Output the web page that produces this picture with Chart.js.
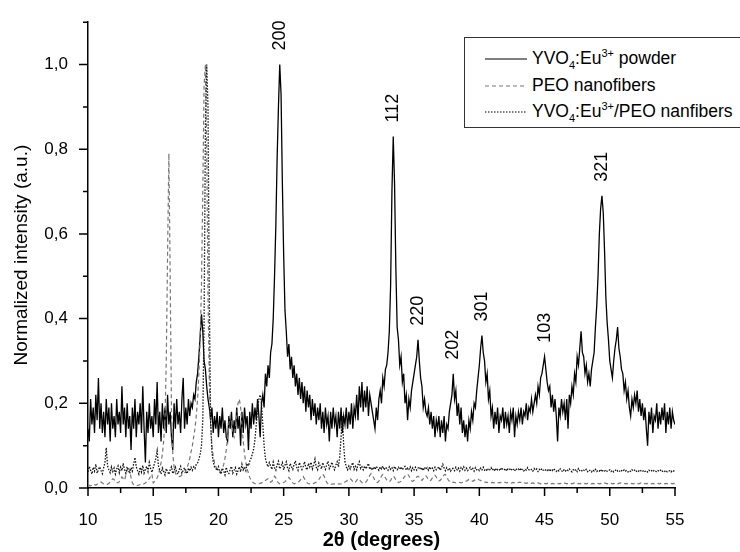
<!DOCTYPE html>
<html>
<head>
<meta charset="utf-8">
<script src="https://cdn.jsdelivr.net/npm/chart.js@4.4.1/dist/chart.umd.min.js"></script>
<style>
    html, body { margin: 0; padding: 0; background: #fff; overflow: hidden; }
    #wrap { position: relative; width: 740px; height: 552px; }
    #legend {
        position: absolute; left: 464px; top: 37px; width: 300px; height: 91px;
        border: 1px solid #333; box-sizing: border-box; background: #fff;
        font-family: 'Liberation Sans', Arial, sans-serif; font-size: 17.5px; color: #000;
    }
    #legend .row { position: absolute; left: 20px; height: 24px; line-height: 24px; white-space: nowrap; }
    #legend svg { vertical-align: middle; margin-right: 5px; }
    #legend sub, #legend sup { font-size: 11px; line-height: 0; }
</style>
</head>
<body>
<div id="wrap">
    <canvas id="canvasGrafico" width="740" height="552"></canvas>
    <div id="legend">
        <div class="row" style="top:8px"><svg width="42" height="4"><line x1="0" y1="2" x2="42" y2="2" stroke="#000" stroke-width="1.2"/></svg>YVO<sub>4</sub>:Eu<sup>3+</sup> powder</div>
        <div class="row" style="top:35px"><svg width="42" height="4"><line x1="0" y1="2" x2="42" y2="2" stroke="#777" stroke-width="1.2" stroke-dasharray="4 3"/></svg>PEO nanofibers</div>
        <div class="row" style="top:61px"><svg width="42" height="4"><line x1="0" y1="2" x2="42" y2="2" stroke="#000" stroke-width="1.2" stroke-dasharray="1.5 1.5"/></svg>YVO<sub>4</sub>:Eu<sup>3+</sup>/PEO nanfibers</div>
    </div>
</div>
<script>
// griglia di misura: 2theta da 10 a 55 gradi, passo 0.1
const START = 10;
const STEP = 0.1;

const xTicks = [10, 15, 20, 25, 30, 35, 40, 45, 50, 55];
const yTicks = [0, 0.2, 0.4, 0.6, 0.8, 1.0];

const peakHkl = ["200", "112", "220", "202", "301", "103", "321"];
const peakAngles = [24.7, 33.4, 35.3, 38.0, 40.2, 45.0, 49.4];

// YVO4:Eu3+ powder (una riga = 1 grado)
const powder = [
    0.14, 0.11, 0.21, 0.15, 0.19, 0.13, 0.22, 0.16, 0.26, 0.14, // 10
    0.20, 0.13, 0.18, 0.12, 0.21, 0.15, 0.19, 0.11, 0.20, 0.14, // 11
    0.17, 0.12, 0.21, 0.15, 0.18, 0.13, 0.24, 0.15, 0.19, 0.12, // 12
    0.20, 0.14, 0.17, 0.09, 0.19, 0.14, 0.21, 0.12, 0.18, 0.15, // 13
    0.20, 0.13, 0.24, 0.14, 0.06, 0.18, 0.13, 0.20, 0.14, 0.17, // 14
    0.12, 0.21, 0.15, 0.25, 0.13, 0.18, 0.11, 0.20, 0.14, 0.19, // 15
    0.13, 0.22, 0.15, 0.18, 0.12, 0.09, 0.20, 0.14, 0.21, 0.15, // 16
    0.18, 0.13, 0.21, 0.26, 0.14, 0.19, 0.15, 0.21, 0.17, 0.20, // 17
    0.19, 0.22, 0.21, 0.25, 0.27, 0.31, 0.36, 0.41, 0.37, 0.30, // 18
    0.28, 0.24, 0.21, 0.19, 0.16, 0.19, 0.13, 0.17, 0.14, 0.18, // 19
    0.12, 0.17, 0.14, 0.19, 0.13, 0.16, 0.12, 0.11, 0.17, 0.14, // 20
    0.18, 0.12, 0.16, 0.13, 0.19, 0.14, 0.17, 0.10, 0.18, 0.13, // 21
    0.19, 0.15, 0.17, 0.09, 0.18, 0.14, 0.20, 0.15, 0.19, 0.16, // 22
    0.21, 0.17, 0.12, 0.20, 0.22, 0.19, 0.27, 0.24, 0.29, 0.26, // 23
    0.32, 0.34, 0.40, 0.50, 0.62, 0.78, 0.90, 1.00, 0.93, 0.72, // 24
    0.55, 0.42, 0.37, 0.31, 0.34, 0.28, 0.31, 0.26, 0.29, 0.24, // 25
    0.27, 0.22, 0.26, 0.21, 0.25, 0.20, 0.24, 0.18, 0.23, 0.19, // 26
    0.22, 0.16, 0.21, 0.17, 0.20, 0.15, 0.19, 0.16, 0.20, 0.14, // 27
    0.18, 0.13, 0.19, 0.15, 0.17, 0.11, 0.18, 0.14, 0.19, 0.15, // 28
    0.17, 0.12, 0.18, 0.14, 0.19, 0.13, 0.17, 0.15, 0.19, 0.14, // 29
    0.18, 0.15, 0.20, 0.14, 0.19, 0.17, 0.22, 0.16, 0.24, 0.19, // 30
    0.25, 0.18, 0.23, 0.19, 0.24, 0.17, 0.22, 0.20, 0.18, 0.16, // 31
    0.14, 0.19, 0.16, 0.21, 0.23, 0.20, 0.26, 0.24, 0.28, 0.29, // 32
    0.32, 0.37, 0.48, 0.70, 0.83, 0.72, 0.52, 0.38, 0.35, 0.29, // 33
    0.31, 0.25, 0.27, 0.20, 0.22, 0.16, 0.21, 0.19, 0.23, 0.25, // 34
    0.27, 0.29, 0.31, 0.35, 0.30, 0.26, 0.24, 0.19, 0.21, 0.18, // 35
    0.17, 0.19, 0.15, 0.18, 0.14, 0.17, 0.12, 0.16, 0.14, 0.17, // 36
    0.12, 0.16, 0.13, 0.17, 0.11, 0.15, 0.14, 0.18, 0.20, 0.22, // 37
    0.27, 0.21, 0.23, 0.17, 0.20, 0.15, 0.19, 0.13, 0.16, 0.12, // 38
    0.15, 0.11, 0.16, 0.14, 0.18, 0.16, 0.20, 0.19, 0.23, 0.26, // 39
    0.29, 0.33, 0.36, 0.32, 0.30, 0.25, 0.27, 0.21, 0.23, 0.17, // 40
    0.19, 0.14, 0.18, 0.15, 0.19, 0.13, 0.17, 0.16, 0.19, 0.14, // 41
    0.18, 0.15, 0.17, 0.13, 0.18, 0.16, 0.19, 0.12, 0.17, 0.15, // 42
    0.18, 0.16, 0.19, 0.15, 0.18, 0.17, 0.20, 0.16, 0.19, 0.18, // 43
    0.21, 0.18, 0.20, 0.22, 0.20, 0.24, 0.22, 0.26, 0.27, 0.29, // 44
    0.31, 0.28, 0.25, 0.23, 0.24, 0.19, 0.22, 0.18, 0.21, 0.17, // 45
    0.11, 0.19, 0.17, 0.21, 0.18, 0.20, 0.16, 0.21, 0.14, 0.22, // 46
    0.20, 0.24, 0.22, 0.27, 0.25, 0.31, 0.29, 0.33, 0.37, 0.32, // 47
    0.31, 0.27, 0.29, 0.25, 0.27, 0.24, 0.28, 0.30, 0.32, 0.38, // 48
    0.43, 0.50, 0.60, 0.66, 0.69, 0.65, 0.56, 0.45, 0.39, 0.35, // 49
    0.30, 0.28, 0.26, 0.30, 0.33, 0.35, 0.38, 0.33, 0.31, 0.28, // 50
    0.27, 0.23, 0.25, 0.21, 0.23, 0.19, 0.17, 0.21, 0.19, 0.22, // 51
    0.20, 0.23, 0.18, 0.21, 0.17, 0.20, 0.16, 0.19, 0.14, 0.10, // 52
    0.18, 0.15, 0.19, 0.13, 0.17, 0.16, 0.20, 0.14, 0.18, 0.15, // 53
    0.19, 0.16, 0.20, 0.13, 0.18, 0.15, 0.19, 0.14, 0.18, 0.16, // 54
    0.15
];

// PEO nanofibers
const peo = [
    0.005, 0.006, 0.005, 0.007, 0.006, 0.008, 0.007, 0.009, 0.010, 0.012, // 10
    0.014, 0.012, 0.010, 0.009, 0.008, 0.009, 0.011, 0.014, 0.018, 0.022, // 11
    0.020, 0.016, 0.013, 0.012, 0.015, 0.020, 0.026, 0.022, 0.018, 0.030, // 12
    0.042, 0.050, 0.040, 0.025, 0.012, 0.008, 0.006, 0.005, 0.006, 0.007, // 13
    0.008, 0.007, 0.008, 0.010, 0.012, 0.015, 0.018, 0.022, 0.027, 0.033, // 14
    0.012, 0.015, 0.018, 0.024, 0.032, 0.045, 0.060, 0.080, 0.110, 0.160, // 15
    0.300, 0.550, 0.790, 0.500, 0.180, 0.080, 0.050, 0.035, 0.030, 0.028, // 16
    0.027, 0.028, 0.030, 0.032, 0.035, 0.040, 0.048, 0.058, 0.070, 0.085, // 17
    0.100, 0.120, 0.140, 0.170, 0.210, 0.270, 0.350, 0.480, 0.700, 0.950, // 18
    1.000, 0.800, 0.450, 0.250, 0.150, 0.100, 0.075, 0.060, 0.050, 0.045, // 19
    0.040, 0.038, 0.040, 0.045, 0.055, 0.070, 0.090, 0.120, 0.150, 0.170, // 20
    0.160, 0.130, 0.120, 0.140, 0.170, 0.200, 0.210, 0.190, 0.150, 0.110, // 21
    0.080, 0.060, 0.045, 0.035, 0.025, 0.018, 0.014, 0.012, 0.010, 0.010, // 22
    0.010, 0.010, 0.011, 0.012, 0.013, 0.015, 0.018, 0.020, 0.022, 0.018, // 23
    0.014, 0.016, 0.022, 0.028, 0.024, 0.016, 0.012, 0.010, 0.011, 0.012, // 24
    0.013, 0.015, 0.018, 0.022, 0.025, 0.021, 0.016, 0.012, 0.010, 0.011, // 25
    0.012, 0.014, 0.016, 0.020, 0.024, 0.027, 0.022, 0.016, 0.012, 0.010, // 26
    0.010, 0.009, 0.010, 0.011, 0.012, 0.014, 0.016, 0.020, 0.025, 0.030, // 27
    0.032, 0.028, 0.020, 0.013, 0.010, 0.009, 0.008, 0.009, 0.010, 0.009, // 28
    0.008, 0.009, 0.010, 0.009, 0.010, 0.011, 0.012, 0.014, 0.016, 0.018, // 29
    0.020, 0.022, 0.019, 0.015, 0.012, 0.014, 0.018, 0.022, 0.020, 0.016, // 30
    0.013, 0.011, 0.012, 0.014, 0.018, 0.024, 0.030, 0.034, 0.030, 0.024, // 31
    0.018, 0.014, 0.013, 0.016, 0.022, 0.028, 0.032, 0.030, 0.024, 0.019, // 32
    0.016, 0.015, 0.018, 0.024, 0.028, 0.025, 0.019, 0.015, 0.013, 0.014, // 33
    0.016, 0.019, 0.024, 0.028, 0.031, 0.033, 0.029, 0.022, 0.017, 0.016, // 34
    0.018, 0.022, 0.026, 0.028, 0.025, 0.020, 0.018, 0.022, 0.027, 0.029, // 35
    0.025, 0.020, 0.017, 0.019, 0.024, 0.028, 0.030, 0.026, 0.020, 0.017, // 36
    0.018, 0.022, 0.027, 0.031, 0.032, 0.026, 0.020, 0.016, 0.014, 0.013, // 37
    0.014, 0.013, 0.012, 0.013, 0.014, 0.013, 0.012, 0.013, 0.014, 0.015, // 38
    0.016, 0.018, 0.020, 0.019, 0.017, 0.016, 0.018, 0.020, 0.022, 0.021, // 39
    0.019, 0.018, 0.016, 0.015, 0.014, 0.014, 0.013, 0.014, 0.013, 0.012, // 40
    0.013, 0.012, 0.013, 0.014, 0.013, 0.012, 0.013, 0.012, 0.013, 0.014, // 41
    0.013, 0.012, 0.013, 0.012, 0.011, 0.012, 0.013, 0.012, 0.011, 0.012, // 42
    0.013, 0.014, 0.013, 0.012, 0.011, 0.012, 0.011, 0.012, 0.013, 0.012, // 43
    0.011, 0.012, 0.011, 0.010, 0.011, 0.012, 0.011, 0.010, 0.011, 0.012, // 44
    0.011, 0.010, 0.011, 0.012, 0.011, 0.010, 0.011, 0.010, 0.011, 0.012, // 45
    0.011, 0.010, 0.011, 0.010, 0.011, 0.012, 0.011, 0.010, 0.011, 0.010, // 46
    0.011, 0.010, 0.011, 0.012, 0.011, 0.010, 0.011, 0.010, 0.011, 0.011, // 47
    0.010, 0.011, 0.010, 0.011, 0.012, 0.011, 0.010, 0.011, 0.010, 0.011, // 48
    0.010, 0.011, 0.010, 0.011, 0.010, 0.011, 0.012, 0.011, 0.010, 0.011, // 49
    0.010, 0.011, 0.010, 0.011, 0.010, 0.011, 0.010, 0.011, 0.012, 0.011, // 50
    0.010, 0.011, 0.010, 0.011, 0.010, 0.011, 0.010, 0.011, 0.010, 0.011, // 51
    0.010, 0.011, 0.010, 0.011, 0.012, 0.011, 0.010, 0.011, 0.010, 0.011, // 52
    0.010, 0.011, 0.010, 0.011, 0.010, 0.011, 0.010, 0.011, 0.010, 0.011, // 53
    0.010, 0.011, 0.010, 0.011, 0.010, 0.011, 0.010, 0.011, 0.010, 0.011, // 54
    0.010
];

// YVO4:Eu3+/PEO nanofibers
const composite = [
    0.038, 0.051, 0.042, 0.033, 0.049, 0.040, 0.056, 0.035, 0.044, 0.050, // 10
    0.041, 0.034, 0.048, 0.060, 0.095, 0.052, 0.043, 0.036, 0.050, 0.039, // 11
    0.047, 0.033, 0.045, 0.052, 0.036, 0.049, 0.041, 0.058, 0.043, 0.035, // 12
    0.050, 0.042, 0.034, 0.048, 0.040, 0.057, 0.072, 0.050, 0.041, 0.033, // 13
    0.049, 0.038, 0.053, 0.035, 0.044, 0.051, 0.039, 0.060, 0.046, 0.037, // 14
    0.048, 0.058, 0.070, 0.088, 0.052, 0.041, 0.033, 0.047, 0.039, 0.031, // 15
    0.046, 0.038, 0.032, 0.043, 0.050, 0.034, 0.041, 0.049, 0.037, 0.033, // 16
    0.044, 0.051, 0.035, 0.042, 0.048, 0.038, 0.034, 0.047, 0.040, 0.049, // 17
    0.042, 0.050, 0.046, 0.056, 0.059, 0.068, 0.080, 0.100, 0.160, 0.400, // 18
    0.850, 1.000, 0.900, 0.450, 0.160, 0.085, 0.062, 0.050, 0.046, 0.041, // 19
    0.050, 0.038, 0.033, 0.047, 0.040, 0.031, 0.049, 0.036, 0.034, 0.044, // 20
    0.051, 0.035, 0.042, 0.048, 0.033, 0.041, 0.050, 0.038, 0.056, 0.043, // 21
    0.049, 0.041, 0.058, 0.052, 0.063, 0.070, 0.080, 0.092, 0.115, 0.150, // 22
    0.185, 0.210, 0.220, 0.200, 0.150, 0.100, 0.070, 0.058, 0.050, 0.060, // 23
    0.052, 0.044, 0.061, 0.048, 0.042, 0.055, 0.063, 0.045, 0.052, 0.060, // 24
    0.043, 0.054, 0.062, 0.047, 0.041, 0.058, 0.050, 0.044, 0.056, 0.064, // 25
    0.049, 0.042, 0.060, 0.053, 0.044, 0.051, 0.062, 0.048, 0.043, 0.058, // 26
    0.050, 0.061, 0.045, 0.054, 0.068, 0.049, 0.043, 0.059, 0.052, 0.045, // 27
    0.060, 0.051, 0.044, 0.055, 0.063, 0.046, 0.052, 0.061, 0.049, 0.043, // 28
    0.054, 0.062, 0.050, 0.075, 0.120, 0.170, 0.100, 0.062, 0.050, 0.043, // 29
    0.052, 0.045, 0.054, 0.060, 0.044, 0.051, 0.043, 0.055, 0.062, 0.046, // 30
    0.050, 0.043, 0.052, 0.045, 0.051, 0.058, 0.044, 0.049, 0.042, 0.050, // 31
    0.044, 0.051, 0.047, 0.042, 0.050, 0.045, 0.052, 0.043, 0.049, 0.046, // 32
    0.042, 0.050, 0.044, 0.048, 0.041, 0.051, 0.046, 0.043, 0.049, 0.044, // 33
    0.050, 0.043, 0.048, 0.051, 0.042, 0.047, 0.044, 0.050, 0.041, 0.048, // 34
    0.043, 0.049, 0.042, 0.047, 0.050, 0.043, 0.048, 0.041, 0.049, 0.044, // 35
    0.048, 0.042, 0.050, 0.044, 0.047, 0.041, 0.049, 0.043, 0.046, 0.050, // 36
    0.042, 0.048, 0.056, 0.047, 0.041, 0.048, 0.043, 0.047, 0.040, 0.046, // 37
    0.046, 0.041, 0.049, 0.043, 0.047, 0.040, 0.048, 0.044, 0.050, 0.042, // 38
    0.047, 0.041, 0.045, 0.049, 0.042, 0.046, 0.040, 0.048, 0.043, 0.045, // 39
    0.041, 0.047, 0.043, 0.049, 0.042, 0.045, 0.040, 0.046, 0.043, 0.048, // 40
    0.042, 0.046, 0.040, 0.047, 0.043, 0.045, 0.041, 0.048, 0.044, 0.042, // 41
    0.046, 0.040, 0.045, 0.043, 0.047, 0.041, 0.044, 0.040, 0.046, 0.043, // 42
    0.045, 0.041, 0.047, 0.043, 0.040, 0.045, 0.042, 0.048, 0.043, 0.041, // 43
    0.044, 0.040, 0.046, 0.042, 0.045, 0.039, 0.044, 0.041, 0.046, 0.042, // 44
    0.040, 0.044, 0.041, 0.045, 0.039, 0.043, 0.041, 0.046, 0.042, 0.039, // 45
    0.043, 0.040, 0.045, 0.041, 0.038, 0.043, 0.040, 0.044, 0.041, 0.045, // 46
    0.041, 0.038, 0.043, 0.040, 0.044, 0.039, 0.046, 0.041, 0.043, 0.039, // 47
    0.042, 0.040, 0.044, 0.039, 0.043, 0.041, 0.038, 0.043, 0.040, 0.044, // 48
    0.039, 0.042, 0.040, 0.044, 0.038, 0.042, 0.040, 0.043, 0.039, 0.041, // 49
    0.043, 0.039, 0.042, 0.038, 0.041, 0.044, 0.040, 0.042, 0.038, 0.041, // 50
    0.039, 0.043, 0.040, 0.042, 0.038, 0.041, 0.039, 0.043, 0.040, 0.042, // 51
    0.038, 0.041, 0.039, 0.043, 0.040, 0.038, 0.042, 0.039, 0.041, 0.038, // 52
    0.042, 0.039, 0.041, 0.038, 0.042, 0.040, 0.038, 0.041, 0.039, 0.042, // 53
    0.038, 0.041, 0.039, 0.042, 0.038, 0.040, 0.041, 0.038, 0.042, 0.040, // 54
    0.041
];

const FONT = "'Liberation Sans', Arial, sans-serif";
Chart.defaults.font.family = FONT;
Chart.defaults.color = "#000";

function toPoints(values) {
    return values.map((v, i) => ({ x: +(START + i * STEP).toFixed(1), y: v }));
}

// tacche maggiori e minori disegnate sugli assi
const axisTicks = {
    id: "axisTicks",
    afterDraw(chart) {
        const { ctx, scales: { x, y } } = chart;
        ctx.save();
        ctx.strokeStyle = "#000";
        ctx.lineWidth = 1.5;
        ctx.beginPath();
        for (let i = 0; i <= 18; i++) {
            const px = x.getPixelForValue(10 + i * 2.5);
            const len = i % 2 === 0 ? 8 : 5;
            ctx.moveTo(px, y.bottom);
            ctx.lineTo(px, y.bottom + len);
        }
        for (let i = 0; i <= 11; i++) {
            const py = y.getPixelForValue(i / 10);
            const len = i % 2 === 0 ? 9 : 5;
            ctx.moveTo(x.left, py);
            ctx.lineTo(x.left - len, py);
        }
        ctx.stroke();
        ctx.restore();
    }
};

// indici hkl sopra i picchi
const peakLabels = {
    id: "peakLabels",
    afterDatasetsDraw(chart) {
        const { ctx, scales: { x, y } } = chart;
        ctx.save();
        ctx.fillStyle = "#000";
        ctx.font = "18px " + FONT;
        ctx.textAlign = "left";
        ctx.textBaseline = "middle";
        peakAngles.forEach((a, k) => {
            const idx = Math.round((a - START) / STEP);
            let top = 0;
            for (let j = idx - 2; j <= idx + 2; j++) top = Math.max(top, powder[j]);
            ctx.save();
            ctx.translate(x.getPixelForValue(a), y.getPixelForValue(top) - 14);
            ctx.rotate(-Math.PI / 2);
            ctx.fillText(peakHkl[k], 0, 0);
            ctx.restore();
        });
        ctx.restore();
    }
};

new Chart(document.getElementById("canvasGrafico"), {
    type: "line",
    data: {
        datasets: [
            {
                label: "YVO4:Eu3+/PEO nanfibers",
                data: toPoints(composite),
                borderColor: "#111",
                borderWidth: 1.3,
                borderDash: [1.5, 1.5]
            },
            {
                label: "PEO nanofibers",
                data: toPoints(peo),
                borderColor: "#777",
                borderWidth: 1.2,
                borderDash: [4, 3]
            },
            {
                label: "YVO4:Eu3+ powder",
                data: toPoints(powder),
                borderColor: "#000",
                borderWidth: 1.3
            }
        ]
    },
    options: {
        responsive: false,
        animation: false,
        devicePixelRatio: 1,
        elements: { point: { radius: 0 }, line: { tension: 0 } },
        layout: { padding: { left: 0, right: 65, top: 17, bottom: 0 } },
        plugins: { legend: { display: false }, tooltip: { enabled: false } },
        scales: {
            x: {
                type: "linear",
                min: 10,
                max: 55,
                afterBuildTicks: (s) => { s.ticks = xTicks.map(v => ({ value: v })); },
                afterFit: (s) => { s.height = 64; },
                grid: { display: false },
                border: { display: true, color: "#000", width: 1.5 },
                ticks: { font: { size: 17 }, padding: 14, maxRotation: 0 },
                title: {
                    display: true,
                    text: "2θ (degrees)",
                    font: { size: 20, weight: "bold" },
                    padding: { top: 0, bottom: 0 }
                }
            },
            y: {
                min: 0,
                max: 1.1,
                afterBuildTicks: (s) => { s.ticks = yTicks.map(v => ({ value: v })); },
                afterFit: (s) => { s.width = 88; },
                grid: { display: false },
                border: { display: true, color: "#000", width: 1.5 },
                ticks: {
                    font: { size: 17 },
                    padding: 12,
                    callback: (v) => v.toFixed(1).replace(".", ",")
                },
                title: {
                    display: true,
                    text: "Normalized intensity (a.u.)",
                    font: { size: 19 },
                    padding: { top: 10, bottom: 0 }
                }
            }
        }
    },
    plugins: [axisTicks, peakLabels]
});
</script>
</body>
</html>
